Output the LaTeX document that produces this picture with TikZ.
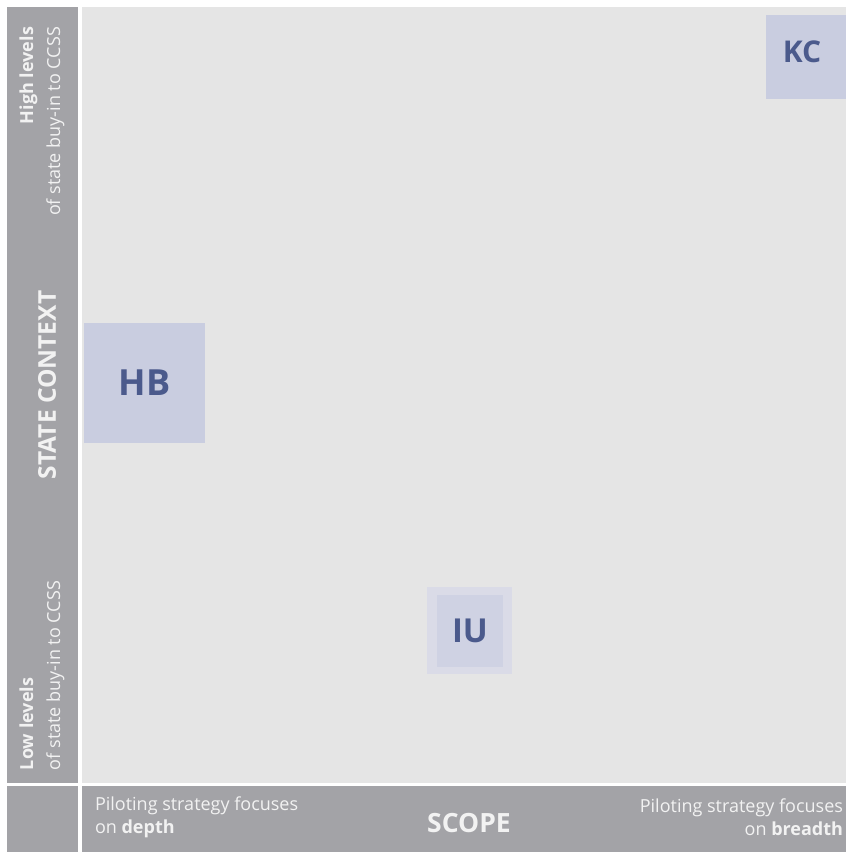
\documentclass[tikz,border=0pt]{standalone}
\usepackage{fontspec}
\setmainfont{Open Sans}
\definecolor{bargray}{HTML}{A3A3A7}
\definecolor{fieldgray}{HTML}{E5E5E5}
\definecolor{bartext}{HTML}{F2F2F2}
\definecolor{tagfill}{HTML}{C9CDE0}
\definecolor{tagpale}{HTML}{DADBE7}
\definecolor{tagmid}{HTML}{CFD2E3}
\definecolor{tagtext}{HTML}{4B5A8C}

\begin{document}
\begin{tikzpicture}[x = 1pt, y = -1pt,
    every node/.style = {inner sep = 0pt, outer sep = 0pt},
    panel/.style = {anchor = north west, fill = #1},
    label/.style = {text = bartext, font = \fontsize{18}{23}\selectfont},
    axis/.style = {text = bartext, font = \bfseries\fontsize{#1}{#1}\selectfont},
    tag/.style = {fill = tagfill, text = tagtext, font = \bfseries\fontsize{#1}{#1}\selectfont}]
    \useasboundingbox[fill = white] (0,0) rectangle (846,854);
    % frame
    \node[panel = bargray, minimum width = 71pt, minimum height = 776pt] (side) at (7,7) {};
    \node[panel = fieldgray, minimum width = 764pt, minimum height = 776pt] (field) at (82,7) {};
    \node[panel = bargray, minimum width = 71pt, minimum height = 66pt] (corner) at (7,786) {};
    \node[panel = bargray, minimum width = 764pt, minimum height = 66pt] (bottom) at (82,786) {};
    % vertical axis
    \node[label, rotate = 90, anchor = east, align = right, font = \fontsize{18}{27}\selectfont] (high) at (42,27)
        {\textbf{High levels}\\of state buy-in to CCSS};
    \node[axis = 24.5, rotate = 90] (context) at (47,385) {STATE CONTEXT};
    \node[label, rotate = 90, anchor = west, align = left, font = \fontsize{18}{27}\selectfont] (low) at (42,770)
        {\textbf{Low levels}\\of state buy-in to CCSS};
    % horizontal axis
    \node[label, anchor = west, align = left] (depth) at (95,817)
        {Piloting strategy focuses\\on \textbf{depth}};
    \node[axis = 26.5] (scope) at (469,823) {SCOPE};
    \node[label, anchor = east, align = right] (breadth) at (843,817)
        {Piloting strategy focuses\\on \textbf{breadth}};
    % cases
    \node[tag = 30, minimum width = 80pt, minimum height = 84pt] (kc) at (806,57) {};
    \node[text = tagtext, font = \bfseries\fontsize{30}{30}\selectfont] at (802,52) {KC};
    \node[tag = 36, minimum width = 121pt, minimum height = 120pt] (hb) at (144.5,383) {HB};
    \node[tag = 33, fill = tagpale, minimum width = 85pt, minimum height = 87pt] (iupale) at (469.5,630.5) {};
    \node[tag = 33, fill = tagmid, minimum width = 66pt, minimum height = 72pt] (iu) at (470,631) {IU};
\end{tikzpicture}
\end{document}
